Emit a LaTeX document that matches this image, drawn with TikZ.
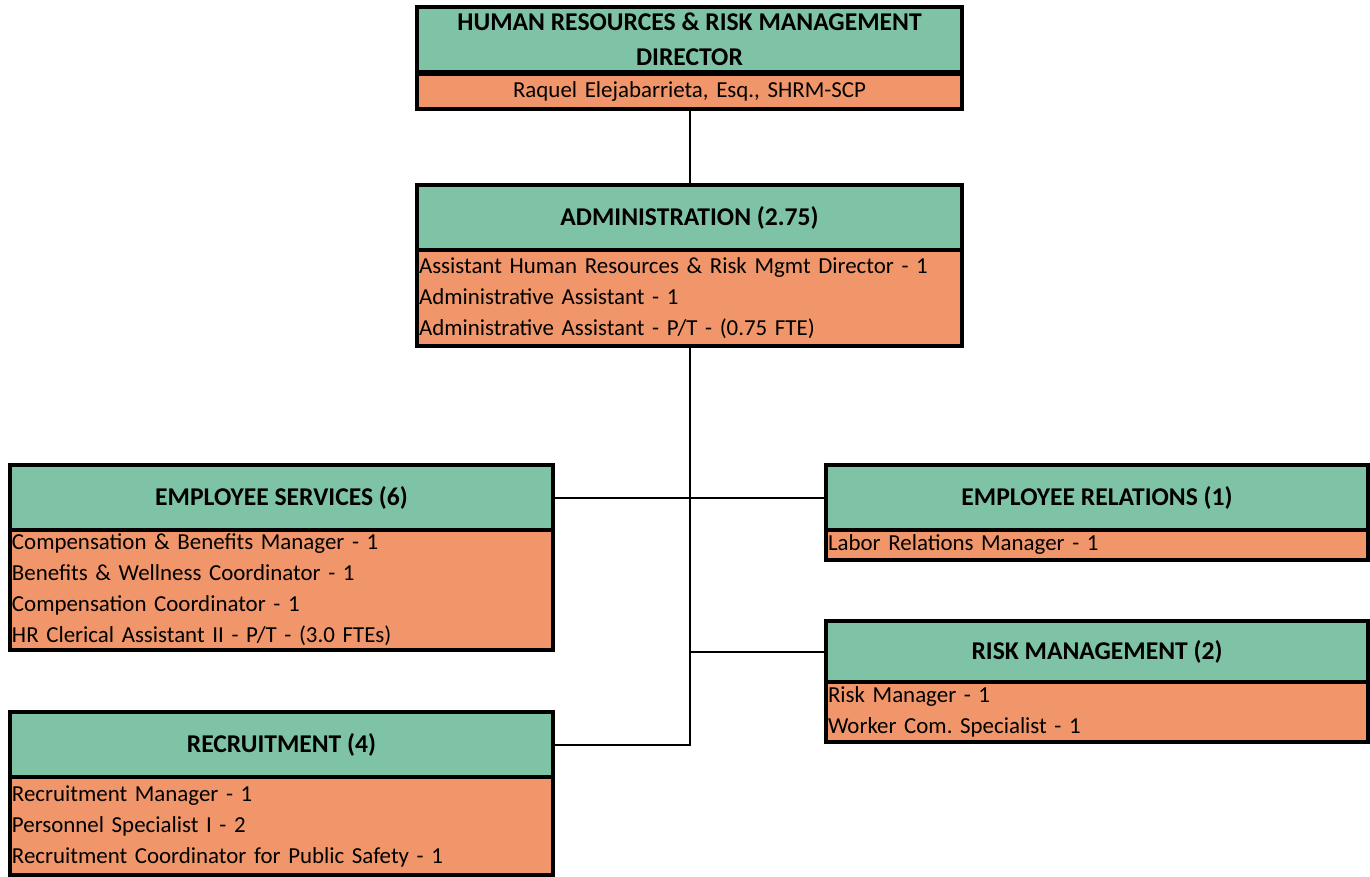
\documentclass[tikz,border=0pt]{standalone}
\usepackage{fontspec}
\setmainfont{Carlito}
\usepackage{tikz}
\usetikzlibrary{positioning, calc}

\definecolor{hrgreen}{RGB}{127,195,166}
\definecolor{hrorange}{RGB}{240,150,106}
\frenchspacing

\begin{document}
\begin{tikzpicture}[
        x=1pt, y=-1pt,
        head/.style={draw, line width=4pt, fill=hrgreen, anchor=north west, minimum height=65pt, inner sep=0pt, align=center, font=\fontsize{25.6}{35}\selectfont\bfseries},
        body/.style={draw, line width=4pt, fill=hrorange, anchor=north west, inner xsep=2pt, inner ysep=0pt, align=left, font=\fontsize{22.9}{31}\selectfont},
        link/.style={line width=2pt}
    ]
    \useasboundingbox (0,0) rectangle (1370,876);

    % Director
    \node[head, minimum width=545pt] (dirhead) at (415,5) {HUMAN RESOURCES \& RISK MANAGEMENT\\DIRECTOR};
    \node[body, text width=541pt, minimum height=35pt, align=center] (dirbody) at (415,72) {Raquel Elejabarrieta, Esq., SHRM-SCP};

    % Administration
    \node[head, minimum width=545pt] (admhead) at (415,183) {ADMINISTRATION (2.75)};
    \node[body, text width=541pt, minimum height=96pt] (admbody) at (415,248) {Assistant Human Resources \& Risk Mgmt Director - 1\\Administrative Assistant - 1\\Administrative Assistant - P/T - (0.75 FTE)};

    % Divisions
    \node[head, minimum width=543pt] (svchead) at (8,463) {EMPLOYEE SERVICES (6)};
    \node[body, text width=539pt, minimum height=120pt] (svcbody) at (8,528) {Compensation \& Benefits Manager - 1\\Benefits \& Wellness Coordinator - 1\\Compensation Coordinator - 1\\HR Clerical Assistant II - P/T - (3.0 FTEs)};

    \node[head, minimum width=542pt] (relhead) at (824,463) {EMPLOYEE RELATIONS (1)};
    \node[body, text width=538pt, minimum height=30pt] (relbody) at (824,528) {Labor Relations Manager - 1};

    \node[head, minimum width=542pt, minimum height=61pt] (riskhead) at (824,619) {RISK MANAGEMENT (2)};
    \node[body, text width=538pt, minimum height=60pt] (riskbody) at (824,680) {Risk Manager - 1\\Worker Com. Specialist - 1};

    \node[head, minimum width=543pt] (rechead) at (8,710) {RECRUITMENT (4)};
    \node[body, text width=539pt, minimum height=98pt] (recbody) at (8,775) {Recruitment Manager - 1\\Personnel Specialist I - 2\\Recruitment Coordinator for Public Safety - 1};

    % Lines
    \coordinate (spine) at (admbody.south |- rechead.east);
    \draw[link] (dirbody) -- (admhead);
    \draw[link] (admbody) -- (spine) -- (rechead);
    \draw[link] (svchead) -- (relhead);
    \draw[link] (riskhead.west) -- (spine |- riskhead.west);
\end{tikzpicture}
\end{document}
